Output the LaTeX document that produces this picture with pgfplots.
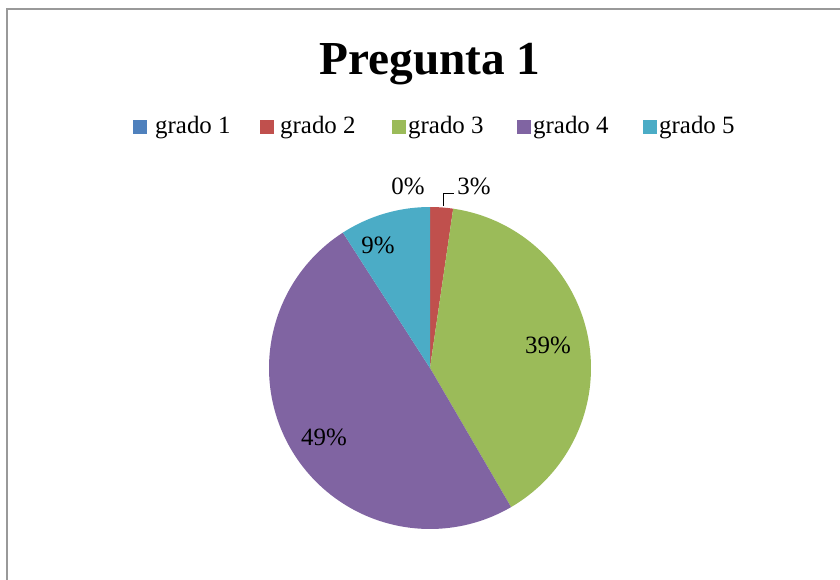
\documentclass[border=0pt]{standalone}
\usepackage{fontspec}
\setmainfont{Liberation Serif}
\usepackage{pgfplots}
\pgfplotsset{compat=1.18}
\definecolor{c1}{HTML}{4F81BD}
\definecolor{c2}{HTML}{C0504D}
\definecolor{c3}{HTML}{9BBB59}
\definecolor{c4}{HTML}{8064A2}
\definecolor{c5}{HTML}{4BACC6}
\begin{document}
\begin{tikzpicture}
\begin{axis}[
  width=840bp, height=580bp, scale only axis,
  xmin=0, xmax=840, ymin=0, ymax=580,
  hide axis, clip=false, anchor=south west, at={(0,0)},
]
% frame
\draw[gray!80, line width=1.5bp] (axis cs:7,0) -- (axis cs:7,571) -- (axis cs:840,571);
% slices: cumulative percentages (grado 1 = 0, grado 2 = 2.3, grado 3 = 39.3, grado 4 = 49.3, grado 5 = 9.1)
\addplot[fill=c2, draw=none, domain=0:2.3, samples=10, variable=\t]
  ({430+161*sin(3.6*\t)},{212+161*cos(3.6*\t)}) -- (axis cs:430,212) -- cycle;
\addplot[fill=c3, draw=none, domain=2.3:41.6, samples=80, variable=\t]
  ({430+161*sin(3.6*\t)},{212+161*cos(3.6*\t)}) -- (axis cs:430,212) -- cycle;
\addplot[fill=c4, draw=none, domain=41.6:90.9, samples=100, variable=\t]
  ({430+161*sin(3.6*\t)},{212+161*cos(3.6*\t)}) -- (axis cs:430,212) -- cycle;
\addplot[fill=c5, draw=none, domain=90.9:100, samples=20, variable=\t]
  ({430+161*sin(3.6*\t)},{212+161*cos(3.6*\t)}) -- (axis cs:430,212) -- cycle;
% title
\node[anchor=base, font=\fontsize{47.5}{55}\selectfont\bfseries] at (axis cs:430,505) {Pregunta 1};
% legend
\fill[c1] (axis cs:133,446) rectangle (axis cs:147,459.5);
\fill[c2] (axis cs:260,446) rectangle (axis cs:274,459.5);
\fill[c3] (axis cs:392,446) rectangle (axis cs:406,459.5);
\fill[c4] (axis cs:517,446) rectangle (axis cs:531,459.5);
\fill[c5] (axis cs:643,446) rectangle (axis cs:657,459.5);
\begin{scope}[every node/.style={anchor=base west, inner sep=0pt, font=\fontsize{25}{30}\selectfont}]
\node at (axis cs:155,446) {grado 1};
\node at (axis cs:280,446) {grado 2};
\node at (axis cs:408,446) {grado 3};
\node at (axis cs:533,446) {grado 4};
\node at (axis cs:659,446) {grado 5};
\end{scope}
% data labels
\begin{scope}[every node/.style={anchor=base, inner sep=0pt, font=\fontsize{25}{30}\selectfont}]
\node at (axis cs:408,386) {0\%};
\node at (axis cs:474,386) {3\%};
\node at (axis cs:378,327) {9\%};
\node at (axis cs:548,227) {39\%};
\node at (axis cs:324,135) {49\%};
\end{scope}
\draw[black, line width=1bp] (axis cs:443,374) -- (axis cs:443,386) -- (axis cs:454,386);
\end{axis}
\pgfresetboundingbox
\useasboundingbox (0,0) rectangle (840bp,580bp);
\end{tikzpicture}
\end{document}
